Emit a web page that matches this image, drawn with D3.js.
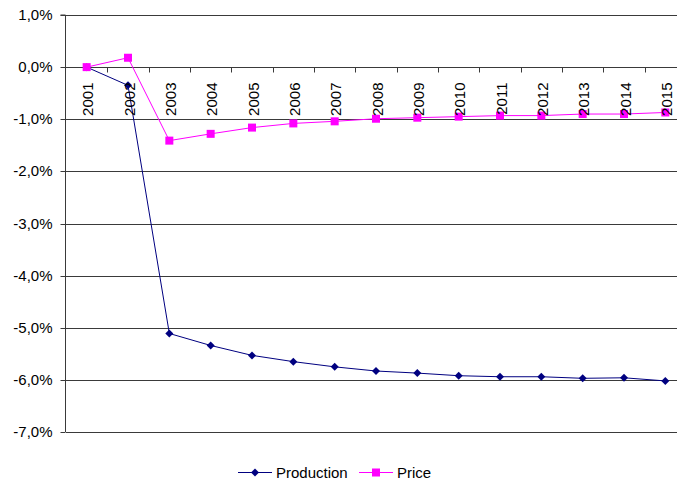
<!DOCTYPE html>
<html>
<head>
<meta charset="utf-8">
<script src="https://cdn.jsdelivr.net/npm/d3@7/dist/d3.min.js"></script>
<style>
  html, body { margin: 0; padding: 0; background: #fff; }
  svg { display: block; font-family: "Liberation Sans", Arial, sans-serif; }
</style>
</head>
<body>
<svg id="chart" width="677" height="483"></svg>
<script>
const years = ["2001","2002","2003","2004","2005","2006","2007","2008","2009","2010","2011","2012","2013","2014","2015"];
const production = [0.0, -0.35, -5.11, -5.34, -5.53, -5.65, -5.75, -5.83, -5.87, -5.92, -5.94, -5.94, -5.97, -5.96, -6.02];
const price = [0.0, 0.18, -1.41, -1.28, -1.16, -1.08, -1.04, -0.99, -0.97, -0.95, -0.93, -0.93, -0.90, -0.90, -0.87];
const yTicks = [1, 0, -1, -2, -3, -4, -5, -6, -7];
const seriesNames = ["Production", "Price"];

(function () {
const svg = d3.select("#chart");
const pLeft = 66, pRight = 686, pTop = 15, pBottom = 432;

const x = d3.scaleBand().domain(years).range([pLeft, pRight]).padding(0);
const y = d3.scaleLinear().domain([-7, 1]).range([pBottom, pTop]);
const cx = d => x(d) + x.bandwidth() / 2;
const fmt = v => v.toFixed(1).replace(".", ",") + "%";

// gridlines
svg.append("g").selectAll("line").data(yTicks).join("line")
  .attr("x1", pLeft).attr("x2", 677)
  .attr("y1", d => Math.round(y(d)) + 0.5).attr("y2", d => Math.round(y(d)) + 0.5)
  .attr("stroke", "#3a3a3a").attr("stroke-width", 1);

// y axis
const yAxis = svg.append("g").attr("transform", `translate(${pLeft - 0.5},0)`)
  .call(d3.axisLeft(y).tickValues(yTicks).tickFormat(fmt).tickSize(5).tickPadding(8));
yAxis.select(".domain").attr("stroke", "#3a3a3a").attr("d", `M-5,${pTop}H0V${pBottom}`);
yAxis.selectAll(".tick line").attr("stroke", "#3a3a3a");
yAxis.selectAll(".tick text").attr("font-size", 15).attr("fill", "#000")
  .attr("font-family", "'Liberation Sans', Arial, sans-serif");
yAxis.selectAll(".tick").attr("transform", d => `translate(0,${Math.round(y(d)) + 0.5})`);

// x axis ticks at category boundaries along zero line
const y0 = Math.round(y(0)) + 0.5;
const bounds = years.slice(1).map(d => x(d));
svg.append("g").selectAll("line").data(bounds).join("line")
  .attr("x1", d => Math.round(d) + 0.5).attr("x2", d => Math.round(d) + 0.5)
  .attr("y1", y0).attr("y2", y0 + 5)
  .attr("stroke", "#3a3a3a");

// lines
const line = d3.line().x((d, i) => cx(years[i])).y(d => y(d));
svg.append("path").datum(production).attr("d", line)
  .attr("fill", "none").attr("stroke", "#000080").attr("stroke-width", 1);
svg.append("path").datum(price).attr("d", line)
  .attr("fill", "none").attr("stroke", "#ff00ff").attr("stroke-width", 1);

// markers
const diamond = "M0,-4L4,0L0,4L-4,0Z";
svg.append("g").selectAll("path").data(production).join("path")
  .attr("d", diamond)
  .attr("transform", (d, i) => `translate(${cx(years[i])},${y(d)})`)
  .attr("fill", "#000080");
svg.append("g").selectAll("rect").data(price).join("rect")
  .attr("x", (d, i) => cx(years[i]) - 4).attr("y", d => y(d) - 4)
  .attr("width", 8).attr("height", 8)
  .attr("fill", "#ff00ff");

// x labels (drawn above the series)
svg.append("g").selectAll("text").data(years).join("text")
  .attr("transform", d => `translate(${cx(d) + 1},${y0 + 15}) rotate(-90)`)
  .attr("text-anchor", "end").attr("dominant-baseline", "central")
  .attr("font-size", 15).attr("fill", "#000")
  .text(d => d);

// legend
const lg = svg.append("g");
const legendItems = [
  { name: seriesNames[0], color: "#000080", x: 238, shape: "diamond" },
  { name: seriesNames[1], color: "#ff00ff", x: 359, shape: "square" }
];
legendItems.forEach(it => {
  const ly = 472.5;
  lg.append("line").attr("x1", it.x).attr("x2", it.x + 34).attr("y1", ly).attr("y2", ly)
    .attr("stroke", it.color).attr("stroke-width", 1);
  if (it.shape === "diamond") {
    lg.append("path").attr("d", diamond).attr("transform", `translate(${it.x + 17},${ly})`).attr("fill", it.color);
  } else {
    lg.append("rect").attr("x", it.x + 17 - 4).attr("y", ly - 4).attr("width", 8).attr("height", 8).attr("fill", it.color);
  }
  lg.append("text").attr("x", it.x + 38).attr("y", ly).attr("dominant-baseline", "central")
    .attr("font-size", 15).attr("fill", "#000").text(it.name);
});
})();
</script>
</body>
</html>
